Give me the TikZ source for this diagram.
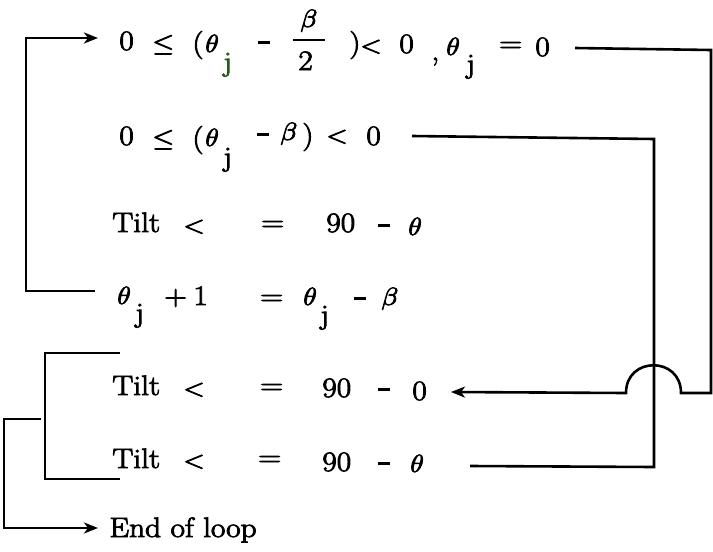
\documentclass[tikz,border=0pt]{standalone}
\usetikzlibrary{arrows.meta}
\newcommand{\sx}[1]{\special{pdf:literal direct 2 Tr}\scalebox{1.12}[1]{#1}\special{pdf:literal direct 0 Tr}}
\newcommand{\mn}{\rule[6.5pt]{12pt}{2.8pt}}
\definecolor{jgreen}{RGB}{40,90,30}
\begin{document}
\begin{tikzpicture}[x=1pt,y=-1pt,
  tok/.style={anchor=base west, inner sep=0pt, line width=0.8pt, font=\fontsize{28}{32}\selectfont},
  wire/.style={line width=2.6pt, line join=miter},
  arr/.style={wire, -{Stealth[length=14pt,width=11pt,inset=4pt]}}]
\useasboundingbox (0,0) rectangle (713,552);

% line 1
\node[tok] (a0) at (119,50) {\sx{0}};
\node[tok] (ale) at (152,51) {\sx{$\leq$}};
\node[tok] (alp) at (192,52) {\sx{(}};
\node[tok] (ath) at (205,52) {\sx{$\theta$}};
\node[tok,text=jgreen] (aj) at (223,71) {\sx{j}};
\node[tok] (am) at (258,50) {\mn};
\node[tok] (abeta) at (300,27) {\sx{$\beta$}};
\node[tok] (atwo) at (298,70) {\sx{2}};
\node[tok] (arp) at (349,52) {\sx{)}};
\node[tok] (alt) at (360,53) {\sx{$<$}};
\node[tok] (az) at (399,53) {\sx{0}};
\node[tok] (acm) at (431,60) {\sx{,}};
\node[tok] (ath2) at (446,55) {\sx{$\theta$}};
\node[tok] (aj2) at (466,73) {\sx{j}};
\node[tok] (aeq) at (499,52) {\sx{=}};
\node[tok] (az2) at (535,56) {\sx{0}};
\draw[line width=2pt] (293,40) -- (325,40);

% line 2
\node[tok] (b0) at (119,145) {\sx{0}};
\node[tok] (ble) at (152,146) {\sx{$\leq$}};
\node[tok] (blp) at (192,147) {\sx{(}};
\node[tok] (bth) at (205,146) {\sx{$\theta$}};
\node[tok] (bj) at (223,166) {\sx{j}};
\node[tok] (bm) at (257,142) {\mn};
\node[tok] (bbeta) at (280,140) {\sx{$\beta$}};
\node[tok] (brp) at (302,144) {\sx{)}};
\node[tok] (blt) at (326,143) {\sx{$<$}};
\node[tok] (bz) at (366,145) {\sx{0}};

% line 3
\node[tok] (c0) at (112,232) {\sx{Tilt}};
\node[tok] (clt) at (183,233) {\sx{$<$}};
\node[tok] (ceq) at (261,231) {\sx{=}};
\node[tok] (c90) at (326,232) {\sx{90}};
\node[tok] (cm) at (378,233) {\mn};
\node[tok] (cth) at (408,235) {\sx{$\theta$}};

% line 4
\node[tok] (d0) at (117,304) {\sx{$\theta$}};
\node[tok] (dj) at (135,322) {\sx{j}};
\node[tok] (dp) at (164,305) {\sx{+}};
\node[tok] (d1) at (193,305) {\sx{1}};
\node[tok] (deq) at (260,305) {\sx{=}};
\node[tok] (dth) at (303,305) {\sx{$\theta$}};
\node[tok] (dj2) at (320,324) {\sx{j}};
\node[tok] (dm) at (354,306) {\mn};
\node[tok] (dbeta) at (381,305) {\sx{$\beta$}};

% line 5
\node[tok] (e0) at (112,395) {\sx{Tilt}};
\node[tok] (elt) at (183,396) {\sx{$<$}};
\node[tok] (eeq) at (260,394) {\sx{=}};
\node[tok] (e90) at (322,397) {\sx{90}};
\node[tok] (em) at (378,397) {\mn};
\node[tok] (ez) at (412,400) {\sx{0}};

% line 6
\node[tok] (f0) at (112,468) {\sx{Tilt}};
\node[tok] (flt) at (183,468) {\sx{$<$}};
\node[tok] (feq) at (258,466) {\sx{=}};
\node[tok] (f90) at (322,471) {\sx{90}};
\node[tok] (fm) at (378,471) {\mn};
\node[tok] (fth) at (410,472) {\sx{$\theta$}};

% end
\node[tok] (g0) at (109,537) {\sx{End of loop}};

% coordinates
\coordinate (l4w) at (95,291);
\coordinate (c1) at (26,291);
\coordinate (c2) at (26,38);
\coordinate (t1) at (98,38);
\coordinate (r1s) at (575,48);
\coordinate (r1c) at (711,50);
\coordinate (r1d) at (711,393);
\coordinate (arcR) at (681,393);
\coordinate (arcL) at (626,393);
\coordinate (t5) at (451,392);
\coordinate (r2s) at (412,136);
\coordinate (r2c) at (654,139);
\coordinate (r2b) at (654,467);
\coordinate (r6e) at (470,466);
\coordinate (k1) at (120,353);
\coordinate (k2) at (45,353);
\coordinate (k3) at (45,479);
\coordinate (k4) at (120,479);
\coordinate (o1) at (41,419);
\coordinate (o2) at (4,419);
\coordinate (o3) at (4,528);
\coordinate (o4) at (98,528);

\draw[arr] (l4w) -- (c1) -- (c2) -- (t1);
\draw[arr] (r1s) -- (r1c) -- (r1d) -- (arcR) .. controls (681,356) and (626,356) .. (arcL) -- (t5);
\draw[wire] (r2s) -- (r2c) -- (r2b) -- (r6e);
\draw[wire] (k1) -- (k2) -- (k3) -- (k4);
\draw[arr] (o1) -- (o2) -- (o3) -- (o4);
\end{tikzpicture}
\end{document}
